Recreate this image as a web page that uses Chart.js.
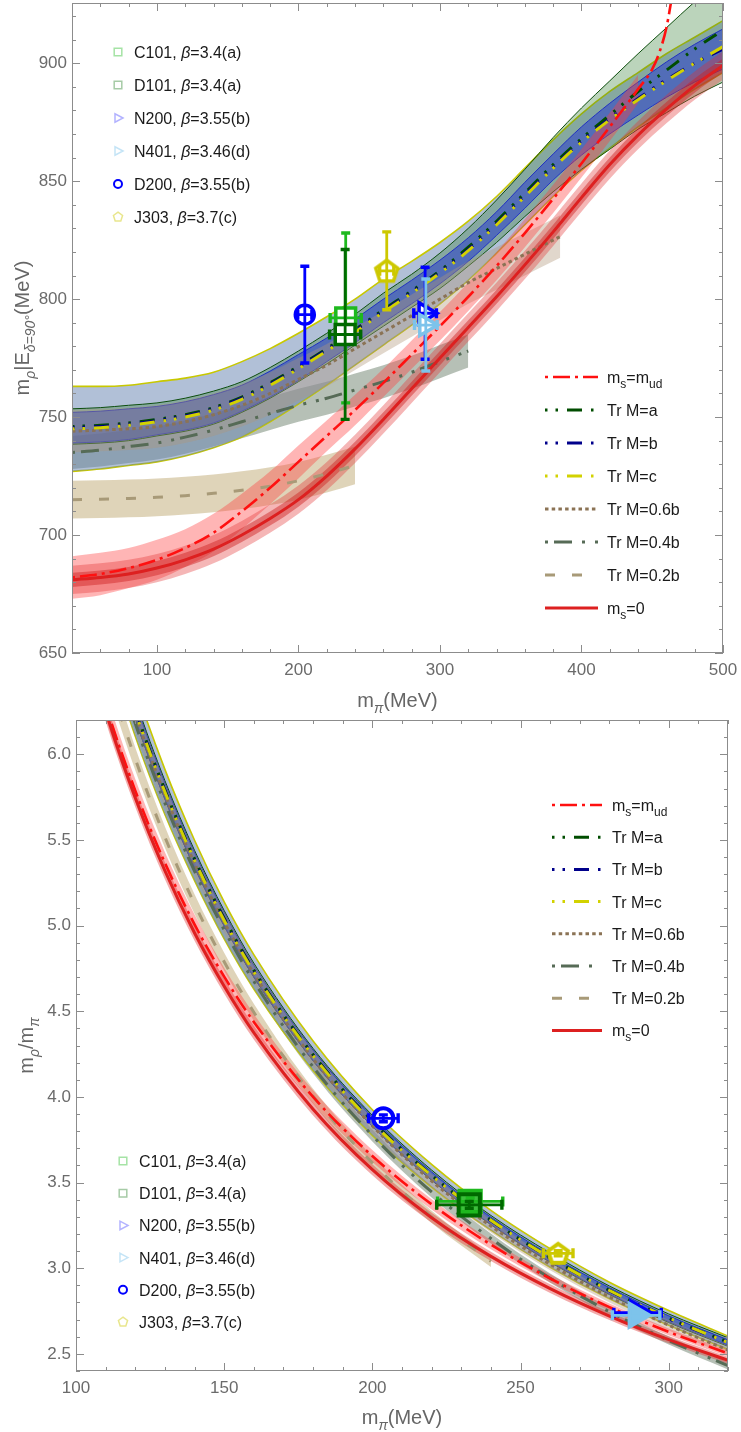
<!DOCTYPE html>
<html>
<head>
<meta charset="utf-8">
<script src="https://cdn.jsdelivr.net/npm/chart.js@4.4.1/dist/chart.umd.min.js"></script>
<style>
  body { margin: 0; background: #fff; }
  canvas { display: block; }
</style>
</head>
<body>
<canvas id="rhoMass" width="741" height="715"></canvas>
<canvas id="rhoRatio" width="741" height="717"></canvas>
<script>
'use strict';

// ---------- top panel: m_rho (MeV) against m_pi (MeV) ----------
const xTop = [40, 60, 80, 100, 120, 140, 160, 180, 200, 220, 240, 260, 280, 300, 320, 340, 360, 380, 400, 420, 440, 460, 480, 500];
const trA_top = [746, 746.5, 747.5, 749, 751, 754, 758.5, 764.5, 771.5, 779, 787, 795.5, 803.5, 812, 822, 833, 845, 857, 868, 878, 888, 897, 906, 914];
const trB_top = [745.5, 746, 747, 748.5, 750.5, 753.5, 758, 764, 771, 778.5, 786.5, 795, 803, 811.5, 821, 832, 844, 856, 867, 876.5, 885, 893, 900, 906];
const trC_top = [745, 745.5, 746.5, 748, 750, 753, 757.5, 763.5, 770.5, 778, 786, 794.5, 802.5, 811, 820.5, 831.5, 843.5, 855.5, 866.5, 876, 884.5, 892.5, 900, 907];
const errA_top = [7.5, 7.5, 7.5, 7, 7, 7, 6.5, 6.5, 6.5, 6.5, 6.5, 7, 7, 7.5, 8, 9, 10, 11.5, 13, 14.5, 16, 18, 20, 22];
const errB_top = [6.5, 6.5, 6.5, 6, 6, 6, 5.5, 5.5, 5.5, 5, 5, 5, 5, 5, 5, 5, 5.5, 5.5, 6, 6.5, 7, 7.5, 8, 8.5];
const errC_top = [18, 17.5, 17, 17, 16.5, 16, 16, 15.5, 15, 14.5, 14, 14, 13.5, 13, 12.5, 12, 12, 12, 12, 12, 11.5, 11.5, 11, 11];
const ms0_top = [681, 682, 683.5, 686, 689.5, 694, 700, 707, 715, 725, 736.5, 749, 762, 775, 788, 801, 814.5, 828.5, 843, 857, 869.5, 880.5, 890.5, 899];

const xMsud_top = [40, 60, 80, 100, 120, 140, 160, 180, 200, 220, 240, 260, 280, 300, 320, 340, 360, 380, 400, 420, 440, 450, 455, 460, 465];
const msud_top = [682, 683.5, 686, 689.5, 694.5, 701, 710, 720, 731, 742, 753, 764.5, 776.5, 788.5, 801, 814, 828, 842.5, 857.5, 873, 889, 897.5, 904.5, 915, 932];
// band around m_s=m_ud is only drawn up to 440 MeV
const errMsud_top = [9, 9, 8.5, 8.5, 8, 8, 7.5, 7, 7, 6.5, 6.5, 6, 6, 6, 6, 6, 6, 6, 6, 6, 6];

const x06_top = [40, 60, 80, 100, 120, 140, 160, 180, 200, 220, 240, 260, 280, 300, 320, 340, 360, 380, 385];
const tr06_top = [744, 744.5, 745, 746, 748, 751, 755, 760, 766, 772, 779, 786, 793, 800, 807, 813, 819, 825, 826.5];
const x04_top = [40, 60, 80, 100, 120, 140, 160, 180, 200, 220, 240, 260, 280, 300, 320];
const tr04_top = [735, 736, 737.5, 739, 741.5, 744.5, 748, 751.5, 755, 758, 761.5, 765, 769, 773.5, 778];
const x02_top = [40, 60, 80, 100, 120, 140, 160, 180, 200, 220, 240];
const tr02_top = [715, 715.2, 715.5, 716, 716.7, 717.7, 719, 720.7, 723, 726, 729.5];

// lattice ensembles
const ensembles = ['C101', 'D101', 'N200', 'N401', 'D200', 'J303'];
const betas = ['3.4(a)', '3.4(a)', '3.55(b)', '3.46(d)', '3.55(b)', '3.7(c)'];
const mpi = [233.4, 233, 289.5, 290, 204.5, 262.4];
const mpiErr = [11, 11, 8, 8, 5, 5];
const mrho = [792, 785, 794, 789, 793.4, 812];
const mrhoErr = [36, 36, 19.5, 19.5, 20.5, 16.5];

// ---------- bottom panel: m_rho / m_pi against m_pi (MeV) ----------
const xBot = [100, 110, 120, 130, 140, 150, 160, 180, 200, 220, 240, 260, 280, 300, 320];
const trA_bot = [7.495, 6.823, 6.263, 5.792, 5.389, 5.043, 4.740, 4.247, 3.860, 3.543, 3.281, 3.062, 2.871, 2.708, 2.569];
const trB_bot = [7.485, 6.814, 6.254, 5.785, 5.382, 5.037, 4.734, 4.242, 3.855, 3.539, 3.277, 3.058, 2.868, 2.705, 2.566];
const trC_bot = [7.48, 6.81, 6.25, 5.78, 5.38, 5.03, 4.73, 4.24, 3.85, 3.54, 3.28, 3.06, 2.87, 2.71, 2.565];
const errA_bot = [0.07, 0.064, 0.058, 0.054, 0.05, 0.045, 0.041, 0.036, 0.0325, 0.03, 0.027, 0.027, 0.025, 0.025, 0.025];
const errB_bot = [0.06, 0.055, 0.05, 0.046, 0.043, 0.039, 0.034, 0.031, 0.0275, 0.023, 0.021, 0.019, 0.018, 0.017, 0.016];
const errC_bot = [0.17, 0.158, 0.145, 0.132, 0.118, 0.108, 0.1, 0.086, 0.075, 0.066, 0.058, 0.054, 0.048, 0.043, 0.039];
const tr06_bot = [7.46, 6.791, 6.233, 5.765, 5.364, 5.02, 4.719, 4.222, 3.83, 3.509, 3.246, 3.023, 2.832, 2.667, 2.522];
const err06_bot = [0.09, 0.082, 0.075, 0.069, 0.064, 0.06, 0.056, 0.05, 0.045, 0.041, 0.0375, 0.035, 0.032, 0.03, 0.028];
const tr04_bot = [7.39, 6.729, 6.179, 5.715, 5.318, 4.975, 4.675, 4.175, 3.775, 3.445, 3.173, 2.942, 2.746, 2.578, 2.431];
const err04_bot = [0.07, 0.064, 0.058, 0.054, 0.05, 0.047, 0.044, 0.039, 0.035, 0.032, 0.029, 0.027, 0.025, 0.023, 0.022];
const x02_bot = [100, 110, 120, 130, 140, 150, 160, 180, 200, 220, 240];
const tr02_bot = [7.16, 6.512, 5.973, 5.517, 5.126, 4.789, 4.494, 4.004, 3.615, 3.3, 3.04];
const err02_bot = [0.08, 0.073, 0.067, 0.062, 0.057, 0.053, 0.05, 0.044, 0.04, 0.036, 0.033];
const msud_bot = [6.895, 6.289, 5.788, 5.366, 5.007, 4.702, 4.4375, 4.0, 3.655, 3.373, 3.1375, 2.94, 2.773, 2.628, 2.503];
const errMsud_bot = [0.085, 0.077, 0.067, 0.062, 0.057, 0.052, 0.047, 0.039, 0.035, 0.03, 0.027, 0.023, 0.021, 0.02, 0.019];
const ms0_bot = [6.86, 6.252, 5.746, 5.32, 4.957, 4.646, 4.375, 3.928, 3.575, 3.295, 3.069, 2.881, 2.721, 2.583, 2.4625];
const errMs0_bot = [0.065, 0.059, 0.054, 0.05, 0.046, 0.043, 0.04, 0.036, 0.032, 0.029, 0.027, 0.025, 0.023, 0.021, 0.02];

const mpiBot = [233, 232.7, 289.5, 289, 203.7, 262.7];
const ratio = [3.39, 3.37, 2.74, 2.725, 3.875, 3.087];
const ratioErr = [0.02, 0.02, 0.015, 0.015, 0.02, 0.015];

// axis ticks
const xTicksTop = [100, 200, 300, 400, 500];
const yTicksTop = [650, 700, 750, 800, 850, 900];
const xTicksBot = [100, 150, 200, 250, 300];
const yTicksBot = [2.5, 3.0, 3.5, 4.0, 4.5, 5.0, 5.5, 6.0];

const FONT = '"Liberation Sans", Arial, sans-serif';

// colours per ensemble and style per curve
const ptColor = ['rgb(30,185,30)', 'rgb(0,105,0)', 'rgb(0,0,255)', 'rgb(125,195,235)', 'rgb(0,0,255)', 'rgb(205,200,0)'];
const ptLegendColor = ['rgba(30,185,30,0.4)', 'rgba(0,105,0,0.35)', 'rgba(0,0,255,0.3)', 'rgba(125,195,235,0.45)', 'rgb(0,0,255)', 'rgba(205,200,0,0.45)'];
const ptShape = ['rect', 'rect', 'triangle', 'triangle', 'circle', 'pentagon'];

const dashTr = [2.5, 8, 2.5, 9, 15, 9];
const styles = {
  msud: {color: '#ff1010', width: 2.6, dash: [3, 5, 17, 5]},
  a: {color: '#004d00', width: 3, dash: dashTr},
  b: {color: '#00008b', width: 3, dash: dashTr},
  c: {color: '#d2d200', width: 3, dash: dashTr},
  b06: {color: '#8b7355', width: 3, dash: [3.5, 3.2]},
  b04: {color: '#566b56', width: 3, dash: [3, 6, 18, 10, 3, 10]},
  b02: {color: '#a89a78', width: 3, dash: [10, 17]},
  ms0: {color: '#dd2020', width: 3, dash: []}
};

const lineLegend = [
  {s: 'msud', parts: ['m', ['s', 'sub'], '=m', ['ud', 'sub']]},
  {s: 'a', parts: ['Tr M=a']},
  {s: 'b', parts: ['Tr M=b']},
  {s: 'c', parts: ['Tr M=c']},
  {s: 'b06', parts: ['Tr M=0.6b']},
  {s: 'b04', parts: ['Tr M=0.4b']},
  {s: 'b02', parts: ['Tr M=0.2b']},
  {s: 'ms0', parts: ['m', ['s', 'sub'], '=0']}
];

function pts(xs, ys) {
  return xs.map((x, i) => ({x: x, y: ys[i]}));
}

function curve(xs, ys, key) {
  let st = styles[key];
  return {data: pts(xs, ys), borderColor: st.color, borderWidth: st.width, borderDash: st.dash,
    pointRadius: 0, fill: false, cubicInterpolationMode: 'monotone', clip: 0};
}

// two datasets: lower edge, then upper edge filled down to it
function band(xs, ys, err, fillColor, edgeColor, edgeWidth) {
  let lo = [], hi = [];
  let n = Array.isArray(err) ? Math.min(xs.length, err.length) : xs.length;
  for (let i = 0; i < n; i++) {
    let e = Array.isArray(err) ? err[i] : err;
    lo.push({x: xs[i], y: ys[i] - e});
    hi.push({x: xs[i], y: ys[i] + e});
  }
  let edge = {borderColor: edgeColor || 'rgba(0,0,0,0)', borderWidth: edgeColor ? edgeWidth : 0,
    pointRadius: 0, cubicInterpolationMode: 'monotone', clip: 0};
  return [
    Object.assign({data: lo, fill: false}, edge),
    Object.assign({data: hi, fill: '-1', backgroundColor: fillColor}, edge)
  ];
}

function shapePath(ctx, kind, x, y, r) {
  ctx.beginPath();
  if (kind === 'rect') {
    ctx.rect(x - r, y - r, 2 * r, 2 * r);
  } else if (kind === 'circle') {
    ctx.arc(x, y, r, 0, Math.PI * 2);
  } else if (kind === 'triangle') {
    ctx.moveTo(x + r, y);
    ctx.lineTo(x - r * 0.6, y - r * 0.85);
    ctx.lineTo(x - r * 0.6, y + r * 0.85);
    ctx.closePath();
  } else {
    for (let k = 0; k < 5; k++) {
      let a = -Math.PI / 2 + k * 2 * Math.PI / 5;
      ctx.lineTo(x + r * Math.cos(a), y + r * Math.sin(a));
    }
    ctx.closePath();
  }
}

function pentagonImage(r, color, lw, fill) {
  let c = document.createElement('canvas');
  let s = Math.ceil(2 * r + lw + 4);
  c.width = s; c.height = s;
  let g = c.getContext('2d');
  shapePath(g, 'pentagon', s / 2, s / 2 + 1, r);
  g.fillStyle = fill;
  g.fill();
  g.lineWidth = lw;
  g.strokeStyle = color;
  g.stroke();
  return c;
}

// one dataset per ensemble, error sizes kept on the dataset for the plugin
function marks(i, xs, ys, ex, ey, sizes, fills) {
  let shape = ptShape[i];
  let ds = {data: [{x: xs[i], y: ys[i]}], showLine: false, pointBorderWidth: sizes.lw,
    pointBorderColor: ptColor[i], pointBackgroundColor: fills[i], clip: false,
    errX: [ex[i]], errY: [ey[i]], errColor: ptColor[i]};
  if (shape === 'pentagon') {
    ds.pointStyle = pentagonImage(sizes.pentagon, ptColor[i], sizes.lw, fills[i]);
    ds.pointRadius = sizes.pentagon;
  } else {
    ds.pointStyle = shape;
    ds.pointRadius = sizes[shape];
    ds.pointRotation = shape === 'triangle' ? 90 : 0;
  }
  return ds;
}

// text with subscripts / italics; parts are strings or [text, 'sub'|'it'|'subit']
function richText(ctx, parts, x, y, size, color, align) {
  let segs = parts.map(p => typeof p === 'string' ? {t: p, sub: false, it: false}
    : {t: p[0], sub: p[1].indexOf('sub') >= 0, it: p[1].indexOf('it') >= 0});
  let fontOf = s => (s.it ? 'italic ' : '') + (s.sub ? Math.round(size * 0.72) : size) + 'px ' + FONT;
  let w = 0;
  segs.forEach(s => { ctx.font = fontOf(s); s.w = ctx.measureText(s.t).width; w += s.w; });
  let cx = align === 'center' ? x - w / 2 : x;
  ctx.fillStyle = color;
  ctx.textAlign = 'left';
  ctx.textBaseline = 'alphabetic';
  segs.forEach(s => {
    ctx.font = fontOf(s);
    ctx.fillText(s.t, cx, y + (s.sub ? size * 0.3 : 0));
    cx += s.w;
  });
}

const errorBars = {
  id: 'errorBars',
  afterDatasetDraw(chart, args) {
    let ds = chart.data.datasets[args.index];
    if (!ds.errY) return;
    let ctx = chart.ctx, xs = chart.scales.x, ys = chart.scales.y;
    ctx.save();
    ctx.strokeStyle = ds.errColor;
    ds.data.forEach((p, i) => {
      let px = xs.getPixelForValue(p.x), py = ys.getPixelForValue(p.y);
      let y1 = ys.getPixelForValue(p.y + ds.errY[i]), y2 = ys.getPixelForValue(p.y - ds.errY[i]);
      let x1 = xs.getPixelForValue(p.x - ds.errX[i]), x2 = xs.getPixelForValue(p.x + ds.errX[i]);
      ctx.lineWidth = 2.8;
      ctx.beginPath();
      ctx.moveTo(px, y1); ctx.lineTo(px, y2);
      ctx.moveTo(x1, py); ctx.lineTo(x2, py);
      ctx.stroke();
      ctx.lineWidth = 3.4;
      ctx.beginPath();
      ctx.moveTo(px - 4.5, y1); ctx.lineTo(px + 4.5, y1);
      ctx.moveTo(px - 4.5, y2); ctx.lineTo(px + 4.5, y2);
      ctx.moveTo(x1, py - 5); ctx.lineTo(x1, py + 5);
      ctx.moveTo(x2, py - 5); ctx.lineTo(x2, py + 5);
      ctx.stroke();
    });
    ctx.restore();
  }
};

// frame with inward ticks on all sides, axis titles and both legends
const decorations = {
  id: 'decorations',
  afterDraw(chart, args, o) {
    let ctx = chart.ctx, a = chart.chartArea, xs = chart.scales.x, ys = chart.scales.y;
    ctx.save();
    ctx.strokeStyle = '#8c8c8c';
    ctx.lineWidth = 1;
    ctx.strokeRect(a.left + 0.5, a.top + 0.5, a.right - a.left - 1, a.bottom - a.top - 1);

    ctx.beginPath();
    for (let k = Math.ceil(xs.min / o.xMinor - 1e-9); k * o.xMinor <= xs.max + 1e-9; k++) {
      let v = k * o.xMinor;
      let len = Math.abs(v / o.xMajor - Math.round(v / o.xMajor)) < 1e-6 ? 8 : 4;
      let px = Math.round(xs.getPixelForValue(v)) + 0.5;
      ctx.moveTo(px, a.bottom); ctx.lineTo(px, a.bottom - len);
      ctx.moveTo(px, a.top); ctx.lineTo(px, a.top + len);
    }
    for (let k = Math.ceil(ys.min / o.yMinor - 1e-9); k * o.yMinor <= ys.max + 1e-9; k++) {
      let v = k * o.yMinor;
      let len = Math.abs(v / o.yMajor - Math.round(v / o.yMajor)) < 1e-6 ? 8 : 4;
      let py = Math.round(ys.getPixelForValue(v)) + 0.5;
      ctx.moveTo(a.left, py); ctx.lineTo(a.left + len, py);
      ctx.moveTo(a.right, py); ctx.lineTo(a.right - len, py);
    }
    ctx.stroke();

    // axis titles
    richText(ctx, ['m', ['π', 'subit'], '(MeV)'], (a.left + a.right) / 2, o.xTitleY, 20, '#666', 'center');
    ctx.save();
    ctx.translate(o.yTitleX, (a.top + a.bottom) / 2);
    ctx.rotate(-Math.PI / 2);
    richText(ctx, o.yTitle, 0, 0, 20, '#666', 'center');
    ctx.restore();

    // curve legend
    let L = o.lineLegend;
    lineLegend.forEach((item, i) => {
      let st = styles[item.s], y = L.y + i * L.dy;
      ctx.strokeStyle = st.color;
      ctx.lineWidth = st.width;
      ctx.setLineDash(st.dash);
      ctx.beginPath();
      ctx.moveTo(L.x0, y); ctx.lineTo(L.x1, y);
      ctx.stroke();
      ctx.setLineDash([]);
      richText(ctx, item.parts, L.xt, y + 6, 16, '#1a1a1a', 'left');
    });

    // ensemble legend
    let P = o.pointLegend;
    ensembles.forEach((name, i) => {
      let y = P.y + i * P.dy;
      ctx.strokeStyle = ptLegendColor[i];
      ctx.lineWidth = i === 4 ? 2 : 1.5;
      let r = {rect: 3.8, circle: 4, triangle: 5, pentagon: 4.8}[ptShape[i]];
      shapePath(ctx, ptShape[i], P.xm, y, r);
      ctx.stroke();
      richText(ctx, [name + ', ', ['β', 'it'], '=' + betas[i]], P.xt, y + 6, 16, '#1a1a1a', 'left');
    });
    ctx.restore();
  }
};

function axes(xMin, xMax, yMin, yMax, xTicks, yTicks, yWidth, xHeight, yFmt) {
  let tickFont = {size: 17, family: FONT};
  // the plot box is placed by layout padding alone, no room kept for label overhang
  let noPad = s => { s.paddingLeft = 0; s.paddingRight = 0; s.paddingTop = 0; s.paddingBottom = 0; };
  return {
    x: {type: 'linear', min: xMin, max: xMax,
      grid: {display: false, drawTicks: false}, border: {display: false},
      ticks: {font: tickFont, color: '#6b6b6b', padding: 7, maxRotation: 0},
      afterBuildTicks: s => { s.ticks = xTicks.map(v => ({value: v})); },
      afterFit: s => { s.height = xHeight; noPad(s); }},
    y: {type: 'linear', min: yMin, max: yMax,
      grid: {display: false, drawTicks: false}, border: {display: false},
      ticks: {font: tickFont, color: '#6b6b6b', padding: 5, callback: yFmt},
      afterBuildTicks: s => { s.ticks = yTicks.map(v => ({value: v})); },
      afterFit: s => { s.width = yWidth; noPad(s); }}
  };
}

// later entries are painted on top
function stack(list) {
  list.forEach((ds, i) => { ds.order = list.length - i; });
  return list;
}

function renderTop() {
  let ds = [];
  ds.push(...band(x02_top, tr02_top, 8, 'rgba(185,160,100,0.45)'));
  ds.push(...band(x04_top, tr04_top, 7, 'rgba(80,105,80,0.42)'));
  ds.push(...band(xTop, trC_top, errC_top, 'rgba(100,130,175,0.5)', '#c8c800', 1.6));
  ds.push(...band(xTop, trA_top, errA_top, 'rgba(50,125,50,0.33)', '#0d4d0d', 1));
  ds.push(...band(xTop, trB_top, errB_top, 'rgba(40,60,205,0.55)', '#2030c0', 1));
  ds.push(...band(x06_top, tr06_top, 9, 'rgba(175,150,120,0.38)'));
  ds.push(...band(xMsud_top, msud_top, errMsud_top, 'rgba(255,60,60,0.38)'));
  ds.push(...band(xTop, ms0_top, 6, 'rgba(225,45,45,0.35)'));
  ds.push(...band(xTop, ms0_top, 3, 'rgba(205,30,30,0.45)'));
  ds.push(curve(x02_top, tr02_top, 'b02'));
  ds.push(curve(x04_top, tr04_top, 'b04'));
  ds.push(curve(x06_top, tr06_top, 'b06'));
  ds.push(curve(xTop, trA_top, 'a'));
  ds.push(curve(xTop, trB_top, 'b'));
  ds.push(curve(xTop, trC_top, 'c'));
  ds.push(curve(xMsud_top, msud_top, 'msud'));
  ds.push(curve(xTop, ms0_top, 'ms0'));
  let sizes = {rect: 14, circle: 9.5, triangle: 12, pentagon: 11.5, lw: 3.5};
  let fills = ['#fff', '#fff', '#fff', '#fff', '#fff', '#fff'];
  for (let i = 0; i < ensembles.length; i++) {
    ds.push(marks(i, mpi, mrho, mpiErr, mrhoErr, sizes, fills));
  }

  new Chart(document.getElementById('rhoMass'), {
    type: 'line',
    data: {datasets: stack(ds)},
    options: {
      responsive: false, animation: false, devicePixelRatio: 1,
      layout: {autoPadding: false, padding: {top: 3, right: 18, left: 0, bottom: 0}},
      plugins: {
        legend: {display: false}, tooltip: {enabled: false},
        decorations: {
          xMinor: 20, xMajor: 100, yMinor: 10, yMajor: 50,
          xTitleY: 707, yTitleX: 29,
          yTitle: ['m', ['ρ', 'subit'], '|E', ['δ=90°', 'subit'], '(MeV)'],
          lineLegend: {x0: 545, x1: 598, xt: 607, y: 377, dy: 33},
          pointLegend: {xm: 118, xt: 134, y: 52, dy: 33}
        }
      },
      scales: axes(40, 500, 650, 925.5, xTicksTop, yTicksTop, 72, 62, v => String(v))
    },
    plugins: [errorBars, decorations]
  });
}

function renderBottom() {
  let ds = [];
  ds.push(...band(x02_bot, tr02_bot, err02_bot, 'rgba(185,160,100,0.45)'));
  ds.push(...band(xBot, tr04_bot, err04_bot, 'rgba(80,105,80,0.42)'));
  ds.push(...band(xBot, trC_bot, errC_bot, 'rgba(100,130,175,0.5)', '#c8c800', 1.6));
  ds.push(...band(xBot, trA_bot, errA_bot, 'rgba(50,125,50,0.33)', '#0d4d0d', 1));
  ds.push(...band(xBot, trB_bot, errB_bot, 'rgba(40,60,205,0.55)', '#2030c0', 1));
  ds.push(...band(xBot, tr06_bot, err06_bot, 'rgba(175,150,120,0.38)'));
  ds.push(...band(xBot, msud_bot, errMsud_bot, 'rgba(255,60,60,0.38)'));
  ds.push(...band(xBot, ms0_bot, errMs0_bot, 'rgba(225,45,45,0.4)'));
  ds.push(curve(x02_bot, tr02_bot, 'b02'));
  ds.push(curve(xBot, tr04_bot, 'b04'));
  ds.push(curve(xBot, tr06_bot, 'b06'));
  ds.push(curve(xBot, trA_bot, 'a'));
  ds.push(curve(xBot, trB_bot, 'b'));
  ds.push(curve(xBot, trC_bot, 'c'));
  ds.push(curve(xBot, msud_bot, 'msud'));
  ds.push(curve(xBot, ms0_bot, 'ms0'));
  let sizes = {rect: 15, circle: 10, triangle: 13, pentagon: 10.5, lw: 4};
  let fills = ['rgb(60,190,60)', 'rgba(0,0,0,0)', '#fff', 'rgb(125,195,235)', '#fff', '#fff'];
  for (let i = 0; i < ensembles.length; i++) {
    ds.push(marks(i, mpiBot, ratio, mpiErr, ratioErr, sizes, fills));
  }

  new Chart(document.getElementById('rhoRatio'), {
    type: 'line',
    data: {datasets: stack(ds)},
    options: {
      responsive: false, animation: false, devicePixelRatio: 1,
      layout: {autoPadding: false, padding: {top: 5, right: 13, left: 0, bottom: 0}},
      plugins: {
        legend: {display: false}, tooltip: {enabled: false},
        decorations: {
          xMinor: 10, xMajor: 50, yMinor: 0.1, yMajor: 0.5,
          xTitleY: 709, yTitleX: 33,
          yTitle: ['m', ['ρ', 'subit'], '/m', ['π', 'subit']],
          lineLegend: {x0: 552, x1: 602, xt: 612, y: 90, dy: 32.2},
          pointLegend: {xm: 123, xt: 139, y: 446, dy: 32.2}
        }
      },
      scales: axes(100, 320, 2.4, 6.2, xTicksBot, yTicksBot, 76, 61, v => v.toFixed(1))
    },
    plugins: [errorBars, decorations]
  });
}

renderTop();
renderBottom();
</script>
</body>
</html>
